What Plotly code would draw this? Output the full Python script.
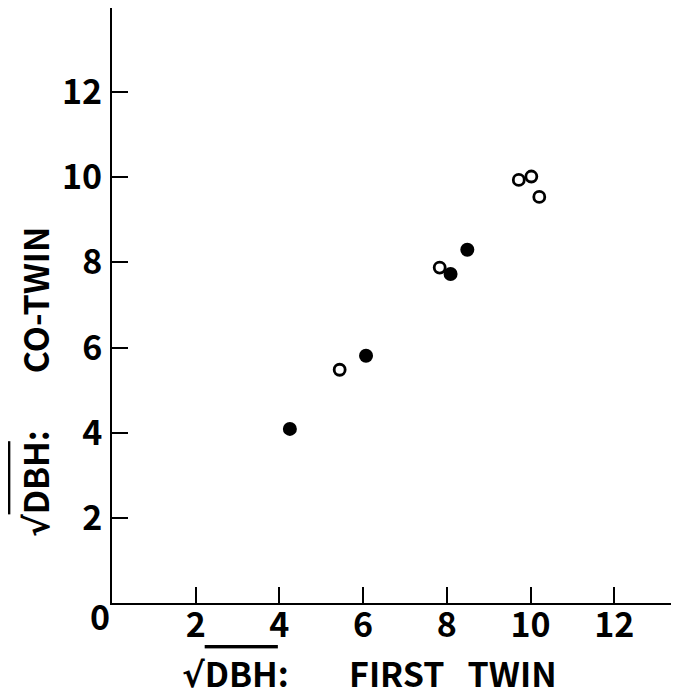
import plotly.graph_objects as go

# Data (sqrt DBH)
first_twin_closed = [4.25, 6.07, 8.09, 8.49]
co_twin_closed = [4.09, 5.81, 7.73, 8.30]
first_twin_open = [5.44, 7.83, 9.72, 10.02, 10.21]
co_twin_open = [5.48, 7.88, 9.94, 10.02, 9.54]
tick_values = [2, 4, 6, 8, 10, 12]
tick_labels = ["2", "4", "6", "8", "10", "12"]

# The page body has an 8px margin: work in reference pixels and shift by OFF
OFF = 8
W, H = 679 - OFF, 697 - OFF
ML, MR, MT = 112 - OFF, 3, 0
X0_PX, Y0_PX = 112, 603.5  # reference pixel position of the origin
MB = H - (Y0_PX - OFF)
PW = W - ML - MR
PH = H - MT - MB
XMAX = PW / 41.85
YMAX = PH / 42.6

FONT = "Noto Sans CJK JP, Liberation Sans Narrow, DejaVu Sans Condensed, sans-serif"


def px_x(px):
    return (px - OFF - ML) / PW


def px_y(py):
    return (H - MB - (py - OFF)) / PH


fig = go.Figure()
fig.add_trace(go.Scatter(
    x=first_twin_closed, y=co_twin_closed, mode="markers",
    marker=dict(symbol="circle", size=14, color="black", line=dict(width=0)),
    showlegend=False, cliponaxis=False))
fig.add_trace(go.Scatter(
    x=first_twin_open, y=co_twin_open, mode="markers",
    marker=dict(symbol="circle-open", size=11, color="black", line=dict(width=2.8)),
    showlegend=False, cliponaxis=False))

axis_common = dict(
    tickvals=tick_values, ticktext=tick_labels,
    ticks="inside", ticklen=16, tickwidth=2, tickcolor="black",
    showline=True, linecolor="black", linewidth=2,
    showgrid=False, zeroline=False, automargin=False,
    tickfont=dict(family=FONT, size=34, color="black", weight="bold"),
)

fig.update_layout(
    width=W, height=H,
    margin=dict(l=ML, r=MR, t=MT, b=MB, pad=0, autoexpand=False),
    paper_bgcolor="white", plot_bgcolor="white",
    xaxis=dict(range=[0, XMAX], ticklabelstandoff=-9, **axis_common),
    yaxis=dict(range=[0, YMAX], ticklabelstandoff=1, **axis_common),
)

tfont = dict(family=FONT, size=34, color="black", weight="bold")
SQ = ("<span style='font-family:DejaVu Sans'>\u221a</span>"
      "<span style='text-decoration:overline'>DBH</span>:")

annotations = [
    dict(text="0", x=px_x(112), y=px_y(616), xref="paper", yref="paper",
         xanchor="right", yanchor="middle", showarrow=False, font=tfont),
    dict(text=SQ, x=px_x(180), y=px_y(673), xref="paper", yref="paper",
         xanchor="left", yanchor="middle", showarrow=False, font=tfont),
    dict(text="FIRST\u00a0\u00a0\u00a0TWIN", x=px_x(347), y=px_y(673),
         xref="paper", yref="paper", xanchor="left", yanchor="middle",
         showarrow=False, font=tfont),
    dict(text=SQ, x=px_x(34), y=px_y(540), xref="paper", yref="paper",
         xanchor="center", yanchor="bottom", textangle=-90,
         showarrow=False, font=tfont),
    dict(text="CO-TWIN", x=px_x(34), y=px_y(376), xref="paper", yref="paper",
         xanchor="center", yanchor="bottom", textangle=-90,
         showarrow=False, font=tfont),
]
fig.update_layout(annotations=annotations)

fig.write_html("out.html")
